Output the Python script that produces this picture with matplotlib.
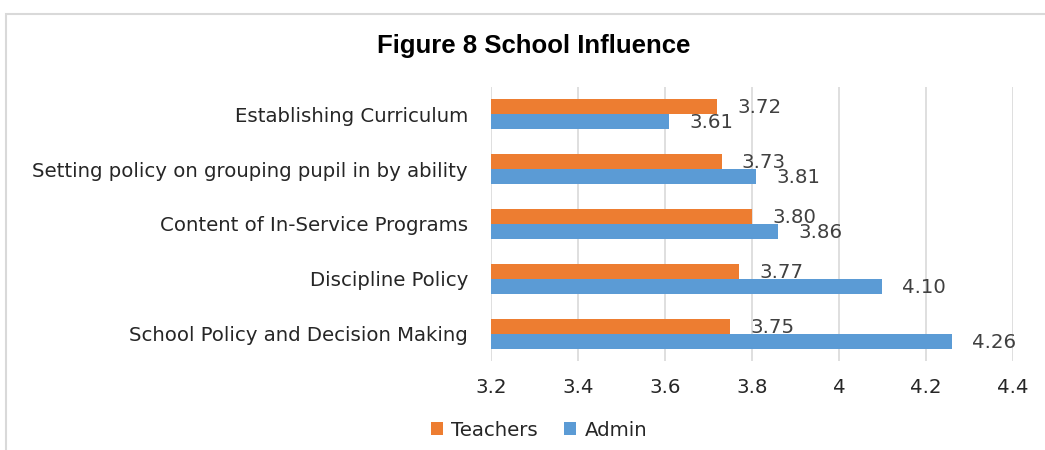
import matplotlib
matplotlib.use("Agg")
import matplotlib.pyplot as plt
from matplotlib.patches import Rectangle
import numpy as np

categories = ["Establishing Curriculum",
              "Setting policy on grouping pupil in by ability",
              "Content of In-Service Programs",
              "Discipline Policy",
              "School Policy and Decision Making"]
teachers = [3.72, 3.73, 3.80, 3.77, 3.75]
admin = [3.61, 3.81, 3.86, 4.10, 4.26]
xticks = [3.2, 3.4, 3.6, 3.8, 4.0, 4.2, 4.4]
xticklabels = ["3.2", "3.4", "3.6", "3.8", "4", "4.2", "4.4"]

W, H = 1045, 450
fig = plt.figure(figsize=(W / 100, H / 100), dpi=100)

# chart border
fig.patches.append(Rectangle((6 / W, -0.1), 1.2, 1 - 14 / H + 0.1, transform=fig.transFigure,
                             fill=False, edgecolor="#d9d9d9", linewidth=1.5))

ax = fig.add_axes([491 / W, 1 - 361 / H, (1013 - 491) / W, (361 - 87) / H])
n = len(categories)
y = np.arange(n)[::-1]
h = 0.275
ax.barh(y + h / 2, [t - 3.2 for t in teachers], left=3.2, height=h, color="#ED7D31", label="Teachers")
ax.barh(y - h / 2, [a - 3.2 for a in admin], left=3.2, height=h, color="#5B9BD5", label="Admin")

fs = 14.2
for yi, t, a in zip(y, teachers, admin):
    ax.annotate(f"{t:.2f}", (t, yi + h / 2), xytext=(20, -1), textcoords="offset pixels",
                va="center", ha="left", fontsize=fs, color="#404040")
    ax.annotate(f"{a:.2f}", (a, yi - h / 2), xytext=(20, -1), textcoords="offset pixels",
                va="center", ha="left", fontsize=fs, color="#404040")

ax.set_xlim(3.2, 4.4)
ax.set_ylim(-0.5, n - 0.5)
ax.set_xticks(xticks)
ax.set_xticklabels(xticklabels, fontsize=fs, color="#262626")
ax.set_yticks(y)
ax.set_yticklabels(categories, fontsize=fs, color="#262626")
ax.tick_params(axis="x", length=0, pad=12)
ax.tick_params(axis="y", length=0, pad=16.5)
for s in ax.spines.values():
    s.set_visible(False)
ax.grid(axis="x", color="#d9d9d9", linewidth=1.2)
ax.set_axisbelow(True)

fig.text(534 / W, 1 - 46 / H, "Figure 8 School Influence", ha="center", va="center",
         fontsize=18.5, fontweight="bold", family=["Liberation Sans"], color="#000000")

fig.legend(loc="center", bbox_to_anchor=(539 / W, 1 - 430 / H), ncol=2, frameon=False,
           fontsize=fs, handlelength=0.6, handleheight=0.6, columnspacing=1.3, handletextpad=0.45,
           labelcolor="#262626")

fig.savefig("out.png", dpi=100)
